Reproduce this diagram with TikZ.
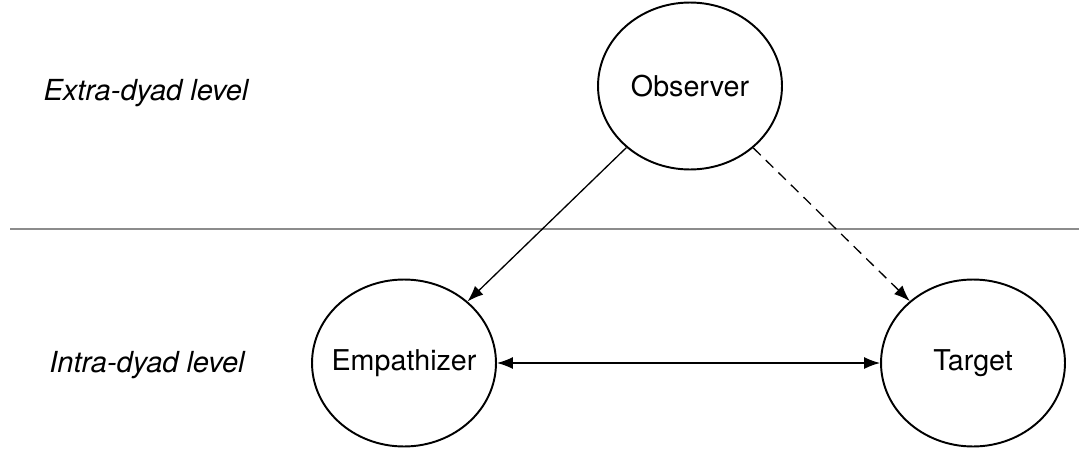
\documentclass[tikz,border=0pt]{standalone}
\usepackage{fontspec}
\setmainfont{TeX Gyre Heros}
\usetikzlibrary{arrows.meta,positioning,shapes.geometric}
\definecolor{levelgray}{rgb}{0.55,0.55,0.55}
\tikzset{
  actor/.style={
    ellipse,
    draw=black,
    line width=1.1pt,
    minimum width=3.68cm,
    minimum height=3.34cm,
    inner xsep=-10pt,
    inner ysep=0pt,
    font=\fontsize{16.3}{19}\selectfont
  },
  level/.style={
    font=\fontsize{16.5}{19}\selectfont\itshape
  },
  link/.style={
    -{Latex[length=3.2mm,width=2.4mm]},
    line width=0.75pt
  }
}
\begin{document}
\begin{tikzpicture}[x=0.02cm,y=-0.02cm]
\useasboundingbox (0,0) rectangle (1079,450);
% levels
\node[level] (extra) at (146,93) {Extra-dyad level};
\node[level] (intra) at (147,365) {Intra-dyad level};
\coordinate (sepL) at (10,229);
\coordinate (sepR) at (1079,229);
\draw[levelgray,line width=0.9pt] (sepL) -- (sepR);
% actors
\node[actor] (obs) at (690,86) {Observer};
\node[actor] (emp) at (404,363) {Empathizer};
\node[actor] (tgt) at (973,363) {Target};
\draw[link] (obs) -- (emp);
\draw[link,dashed,dash pattern=on 6pt off 4pt] (obs) -- (tgt);
\draw[link,{Latex[length=3.2mm,width=2.4mm]}-{Latex[length=3.2mm,width=2.4mm]}] (emp) -- (tgt);
\end{tikzpicture}
\end{document}
